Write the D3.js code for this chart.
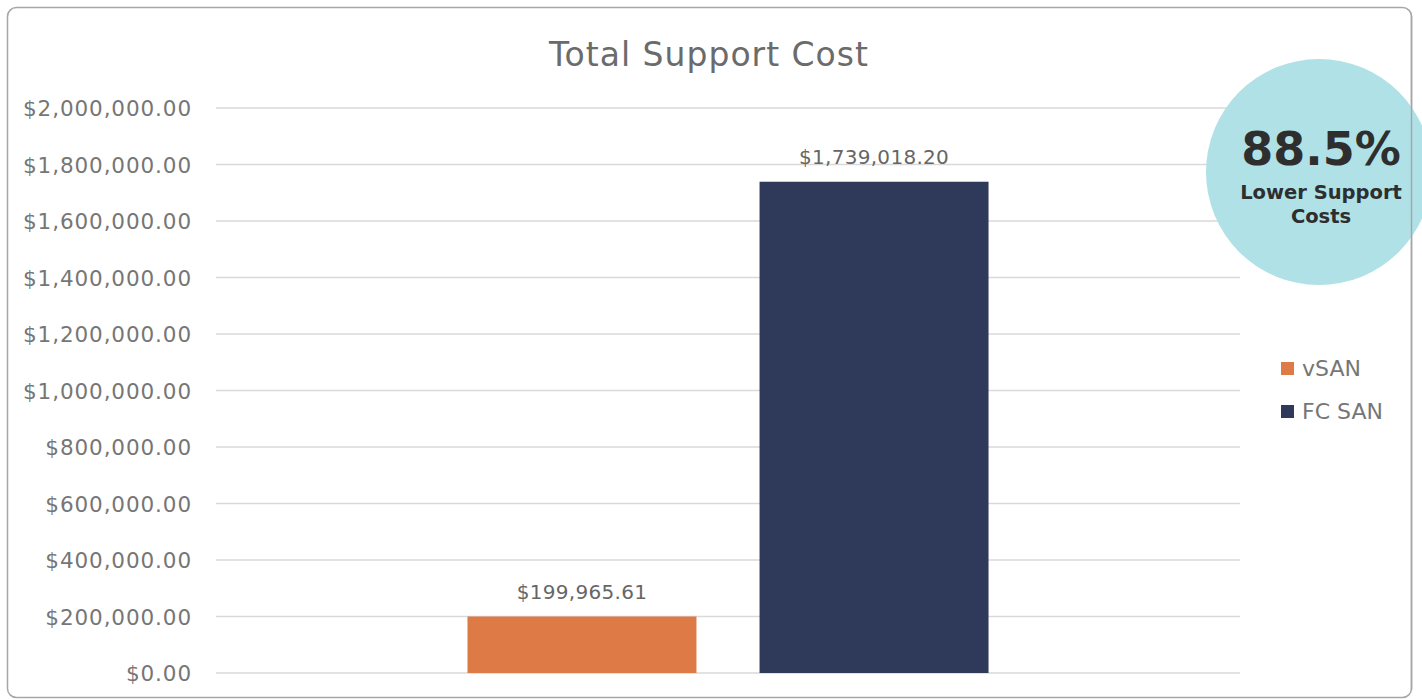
<!DOCTYPE html>
<html>
<head>
<meta charset="utf-8">
<script src="https://cdn.jsdelivr.net/npm/d3@7"></script>
<style>
  body { margin: 0; background: #fff; }
  text { font-family: "DejaVu Sans", sans-serif; }
</style>
</head>
<body>
<div id="chart"></div>
<script>
// chart data
var title = "Total Support Cost";
var seriesNames = ["vSAN", "FC SAN"];
var seriesValues = [199965.61, 1739018.20];
var seriesColors = ["#dd7a46", "#2f3a5a"];
var tickValues = [0, 200000, 400000, 600000, 800000, 1000000, 1200000, 1400000, 1600000, 1800000, 2000000];
var badgeValue = "88.5%";
var badgeLines = ["Lower Support", "Costs"];

var svgWidth = 1422;
var svgHeight = 700;

var margin = { top: 108, right: 182, bottom: 27, left: 216 };
var width = svgWidth - margin.left - margin.right;
var height = svgHeight - margin.top - margin.bottom;

var svg = d3.select("#chart")
  .append("svg")
  .attr("width", svgWidth)
  .attr("height", svgHeight);

// frame
svg.append("rect")
  .attr("x", 7.5)
  .attr("y", 7.5)
  .attr("width", 1404)
  .attr("height", 690)
  .attr("rx", 9)
  .attr("fill", "#fff")
  .attr("stroke", "#a6a6a6")
  .attr("stroke-width", 1.5);

var chartGroup = svg.append("g")
  .attr("transform", `translate(${margin.left}, ${margin.top})`);

var yScale = d3.scaleLinear()
  .domain([0, 2000000])
  .range([height, 0]);

var xScale = d3.scaleBand()
  .domain(seriesNames)
  .range([0, width])
  .paddingInner(0.216)
  .paddingOuter(0.861);

var fmt = d3.format("$,.2f");

// gridlines
chartGroup.selectAll(".grid")
  .data(tickValues)
  .enter()
  .append("line")
  .attr("x1", 0)
  .attr("x2", width)
  .attr("y1", d => yScale(d))
  .attr("y2", d => yScale(d))
  .attr("stroke", "#d9d9d9")
  .attr("stroke-width", 1.3);

// y axis labels
var leftAxis = d3.axisLeft(yScale)
  .tickValues(tickValues)
  .tickFormat(fmt)
  .tickSize(0)
  .tickPadding(24);

var yAxis = chartGroup.append("g").call(leftAxis);
yAxis.select(".domain").remove();
yAxis.selectAll("text")
  .attr("fill", "#767676")
  .style("font-size", "21.5px")
  .style("letter-spacing", "0.9px")
  .attr("dy", "0.36em");

// bars
chartGroup.selectAll(".bar")
  .data(seriesValues)
  .enter()
  .append("rect")
  .attr("x", (d, i) => xScale(seriesNames[i]))
  .attr("y", d => yScale(d))
  .attr("width", xScale.bandwidth())
  .attr("height", d => height - yScale(d))
  .attr("fill", (d, i) => seriesColors[i]);

// value labels
chartGroup.selectAll(".val")
  .data(seriesValues)
  .enter()
  .append("text")
  .attr("x", (d, i) => xScale(seriesNames[i]) + xScale.bandwidth() / 2)
  .attr("y", d => yScale(d) - 18)
  .attr("text-anchor", "middle")
  .attr("fill", "#666")
  .style("font-size", "20px")
  .style("letter-spacing", "0.3px")
  .text(d => fmt(d));

// title
svg.append("text")
  .attr("x", 709)
  .attr("y", 66)
  .attr("text-anchor", "middle")
  .attr("fill", "#6b6b6b")
  .style("font-size", "33px")
  .style("letter-spacing", "1px")
  .text(title);

// legend
var legend = svg.append("g")
  .attr("transform", "translate(1281, 362)");

var legendItems = legend.selectAll("g")
  .data(seriesNames)
  .enter()
  .append("g")
  .attr("transform", (d, i) => `translate(0, ${i * 43})`);

legendItems.append("rect")
  .attr("width", 13)
  .attr("height", 13)
  .attr("fill", (d, i) => seriesColors[i]);

legendItems.append("text")
  .attr("x", 21)
  .attr("y", 6)
  .attr("dy", "0.36em")
  .attr("fill", "#767676")
  .style("font-size", "22px")
  .text(d => d);

// badge
var badge = svg.append("g")
  .attr("transform", "translate(1319, 172)");

badge.append("circle")
  .attr("r", 113)
  .attr("fill", "#afe1e7");

badge.append("text")
  .attr("x", 2)
  .attr("y", -7)
  .attr("text-anchor", "middle")
  .attr("fill", "#2e2e2e")
  .style("font-size", "46px")
  .style("font-weight", "bold")
  .text(badgeValue);

badge.selectAll(".bl")
  .data(badgeLines)
  .enter()
  .append("text")
  .attr("x", 2)
  .attr("y", (d, i) => 27 + i * 24)
  .attr("text-anchor", "middle")
  .attr("fill", "#2e2e2e")
  .style("font-size", "19.5px")
  .style("font-weight", "bold")
  .text(d => d);

// frame right edge drawn over the badge
svg.append("line")
  .attr("x1", 1411.5)
  .attr("x2", 1411.5)
  .attr("y1", 16)
  .attr("y2", 690)
  .attr("stroke", "#a6a6a6")
  .attr("stroke-width", 1.5);
</script>
</body>
</html>
